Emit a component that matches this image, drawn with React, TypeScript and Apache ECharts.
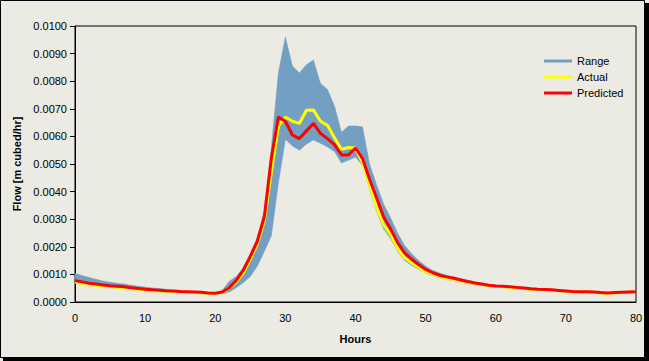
import React, { useEffect, useRef } from 'react';
import * as echarts from 'echarts';

const hours = [0, 1, 2, 3, 4, 5, 6, 7, 8, 9, 10, 11, 12, 13, 14, 15, 16, 17, 18, 19, 20,
  21, 22, 23, 24, 25, 26, 27, 28, 29, 30, 31, 32, 33, 34, 35, 36, 37, 38, 39, 40,
  41, 42, 43, 44, 45, 46, 47, 48, 49, 50, 51, 52, 53, 54, 55, 56, 57, 58, 59, 60,
  61, 62, 63, 64, 65, 66, 67, 68, 69, 70, 71, 72, 73, 74, 75, 76, 77, 78, 79, 80];

const predicted = [
  0.00078, 0.00073, 0.00068, 0.00065, 0.00062, 0.00059, 0.00057, 0.00055, 0.00052, 0.00049, 0.00046,
  0.00044, 0.00043, 0.00041, 0.00040, 0.00038, 0.00037, 0.00036, 0.00035, 0.00033, 0.00032,
  0.00036, 0.00052, 0.00078, 0.00115, 0.00165, 0.00220, 0.00309, 0.00520, 0.00670, 0.00655,
  0.00605, 0.00592, 0.00620, 0.00647, 0.00611, 0.00592, 0.00570, 0.00533, 0.00533, 0.00558,
  0.00520, 0.00445, 0.00378, 0.00309, 0.00265, 0.00215, 0.00178, 0.00155, 0.00136, 0.00118,
  0.00106, 0.00097, 0.00091, 0.00086, 0.00080, 0.00074, 0.00069, 0.00065, 0.00061, 0.00058,
  0.00057, 0.00055, 0.00053, 0.00051, 0.00048, 0.00046, 0.00045, 0.00044, 0.00042, 0.00040,
  0.00038, 0.00037, 0.00037, 0.00036, 0.00034, 0.00033, 0.00034, 0.00035, 0.00036, 0.00037,
];

const actual = [
  0.00072, 0.00067, 0.00063, 0.00060, 0.00058, 0.00055, 0.00053, 0.00051, 0.00048, 0.00046, 0.00043,
  0.00041, 0.00040, 0.00039, 0.00037, 0.00036, 0.00035, 0.00034, 0.00033, 0.00033, 0.00032,
  0.00034, 0.00050, 0.00072, 0.00105, 0.00155, 0.00210, 0.00295, 0.00470, 0.00635, 0.00670,
  0.00655, 0.00647, 0.00695, 0.00696, 0.00655, 0.00640, 0.00595, 0.00553, 0.00560, 0.00558,
  0.00505, 0.00425, 0.00345, 0.00280, 0.00245, 0.00195, 0.00160, 0.00142, 0.00125, 0.00110,
  0.00100, 0.00092, 0.00086, 0.00081, 0.00076, 0.00071, 0.00067, 0.00063, 0.00059, 0.00056,
  0.00055, 0.00053, 0.00051, 0.00049, 0.00046, 0.00045, 0.00044, 0.00043, 0.00041, 0.00039,
  0.00037, 0.00036, 0.00036, 0.00035, 0.00033, 0.00032, 0.00033, 0.00034, 0.00035, 0.00036,
];

const rangeHigh = [
  0.00104, 0.00096, 0.00089, 0.00082, 0.00076, 0.00072, 0.00068, 0.00065, 0.00061, 0.00057, 0.00054,
  0.00051, 0.00049, 0.00046, 0.00043, 0.00041, 0.00039, 0.00037, 0.00035, 0.00034, 0.00033,
  0.00042, 0.00075, 0.00092, 0.00125, 0.00175, 0.00235, 0.00330, 0.00560, 0.00830, 0.00960,
  0.00855, 0.00830, 0.00860, 0.00877, 0.00792, 0.00770, 0.00710, 0.00615, 0.00638, 0.00638,
  0.00635, 0.00500, 0.00425, 0.00355, 0.00305, 0.00250, 0.00205, 0.00175, 0.00150, 0.00130,
  0.00115, 0.00105, 0.00097, 0.00091, 0.00085, 0.00079, 0.00073, 0.00068, 0.00064, 0.00061,
  0.00060, 0.00058, 0.00056, 0.00054, 0.00051, 0.00049, 0.00048, 0.00046, 0.00044, 0.00042,
  0.00040, 0.00039, 0.00038, 0.00037, 0.00036, 0.00035, 0.00035, 0.00036, 0.00037, 0.00038,
];

const rangeLow = [
  0.00070, 0.00065, 0.00061, 0.00058, 0.00056, 0.00053, 0.00051, 0.00049, 0.00046, 0.00044, 0.00041,
  0.00039, 0.00038, 0.00037, 0.00035, 0.00034, 0.00033, 0.00032, 0.00031, 0.00030, 0.00030,
  0.00030, 0.00036, 0.00052, 0.00070, 0.00092, 0.00130, 0.00183, 0.00240, 0.00430, 0.00590,
  0.00565, 0.00550, 0.00572, 0.00587, 0.00575, 0.00562, 0.00545, 0.00504, 0.00514, 0.00525,
  0.00495, 0.00410, 0.00330, 0.00265, 0.00230, 0.00185, 0.00150, 0.00133, 0.00118, 0.00105,
  0.00096, 0.00088, 0.00082, 0.00077, 0.00072, 0.00067, 0.00063, 0.00059, 0.00055, 0.00053,
  0.00052, 0.00050, 0.00048, 0.00046, 0.00044, 0.00043, 0.00042, 0.00041, 0.00039, 0.00037,
  0.00035, 0.00034, 0.00034, 0.00033, 0.00031, 0.00030, 0.00031, 0.00032, 0.00033, 0.00034,
];

const legendNames = ['Range', 'Actual', 'Predicted'];
const yTickLabelDigits = 4;

const RANGE_COLOR = '#729FC2';
const FONT = '"Liberation Sans", Arial, sans-serif';

export default function App() {
  const ref = useRef<HTMLDivElement>(null);

  useEffect(() => {
    document.body.style.margin = '0';
    const chart = echarts.init(ref.current!, null, { renderer: 'svg' });
    const pairs = (ys: number[]) => hours.map((h, i) => [h, ys[i]]);

    chart.setOption({
      animation: false,
      backgroundColor: '#EBEBE3',
      textStyle: { fontFamily: FONT },
      grid: {
        left: 75, right: 13, top: 26, bottom: 59,
        show: true, borderColor: '#000', borderWidth: 1, backgroundColor: 'transparent',
      },
      legend: {
        orient: 'vertical',
        left: 539,
        top: 50,
        itemWidth: 28,
        itemHeight: 3,
        itemGap: 4,
        icon: 'rect',
        textStyle: { fontSize: 11, color: '#000', fontFamily: FONT, lineHeight: 12 },
        data: legendNames,
      },
      xAxis: {
        type: 'value', min: 0, max: 80, interval: 10,
        name: 'Hours', nameLocation: 'middle', nameGap: 31,
        nameTextStyle: { fontWeight: 'bold', fontSize: 11, color: '#000', fontFamily: FONT },
        axisLine: { show: true, lineStyle: { color: '#000', width: 1 } },
        axisTick: { show: false },
        axisLabel: { color: '#000', fontSize: 11, margin: 10, fontFamily: FONT },
        splitLine: { show: false },
      },
      yAxis: {
        type: 'value', min: 0, max: 0.01, interval: 0.001,
        name: 'Flow [m cubed/hr]', nameLocation: 'middle', nameGap: 40,
        nameTextStyle: { fontWeight: 'bold', fontSize: 11, color: '#000', fontFamily: FONT },
        axisLine: { show: true, lineStyle: { color: '#000', width: 1 } },
        axisTick: { show: true, length: 5, lineStyle: { color: '#000' } },
        axisLabel: {
          color: '#000', fontSize: 11, margin: 8, fontFamily: FONT,
          formatter: (v: number) => v.toFixed(yTickLabelDigits),
        },
        splitLine: { show: false },
      },
      series: [
        {
          name: 'Range', type: 'custom', silent: true, z: 1,
          itemStyle: { color: RANGE_COLOR },
          data: [[hours[0], rangeLow[0]]],
          encode: { x: 0, y: 1 },
          renderItem: (_params: any, api: any) => {
            const top = hours.map((h, i) => api.coord([h, rangeHigh[i]]));
            const bottom = hours.map((h, i) => api.coord([h, rangeLow[i]])).reverse();
            return {
              type: 'polygon',
              shape: { points: top.concat(bottom) },
              style: { fill: RANGE_COLOR, stroke: RANGE_COLOR, lineWidth: 0.5 },
            };
          },
        },
        {
          name: 'Actual', type: 'line', data: pairs(actual), symbol: 'none',
          itemStyle: { color: '#FFFF00' }, lineStyle: { width: 3, color: '#FFFF00' }, z: 2,
        },
        {
          name: 'Predicted', type: 'line', data: pairs(predicted), symbol: 'none',
          itemStyle: { color: '#FF0000' }, lineStyle: { width: 3, color: '#FF0000' }, z: 3,
        },
      ],
      graphic: [
        { type: 'rect', shape: { x: 0.5, y: 0.5, width: 644, height: 357 }, style: { fill: 'none', stroke: '#000', lineWidth: 1 }, silent: true },
        { type: 'rect', shape: { x: 645, y: 3, width: 4, height: 358 }, style: { fill: '#000' }, silent: true },
        { type: 'rect', shape: { x: 3, y: 358, width: 646, height: 3 }, style: { fill: '#000' }, silent: true },
      ],
    });
    return () => chart.dispose();
  }, []);

  return <div ref={ref} style={{ width: 649, height: 361 }} />;
}
